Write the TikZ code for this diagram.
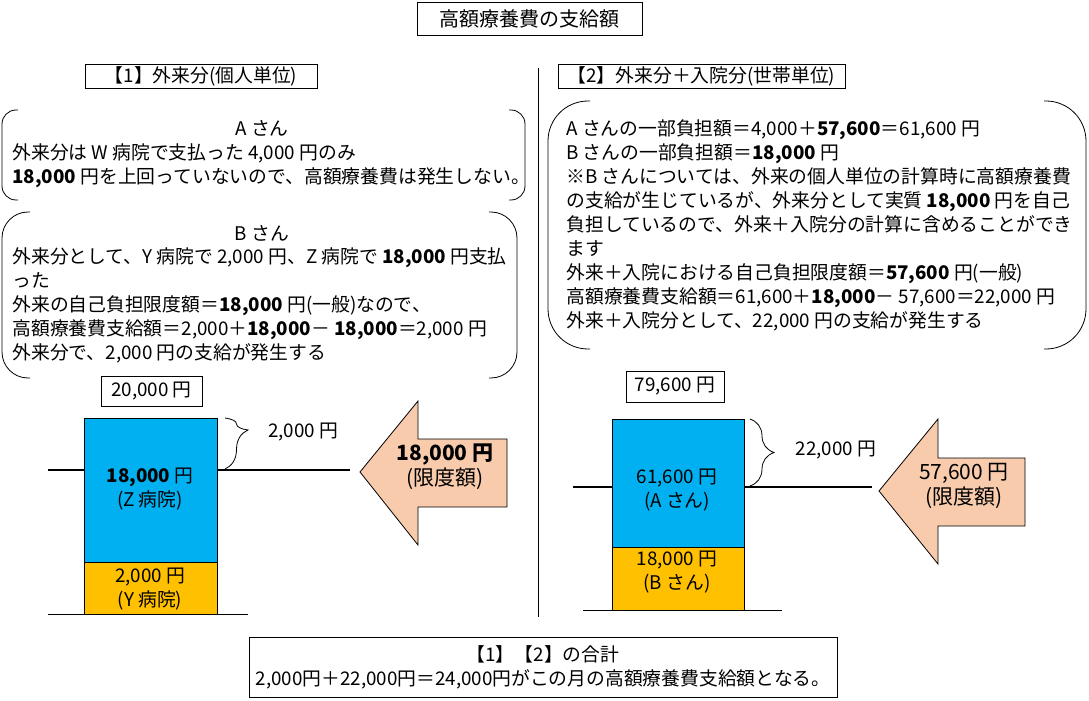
\documentclass[tikz,border=0pt]{standalone}
\usepackage{fontspec}
\setmainfont{Noto Sans CJK JP}
\usetikzlibrary{decorations.pathreplacing}
\definecolor{barblue}{HTML}{00B0F0}
\definecolor{barorange}{HTML}{FFC000}
\definecolor{arrowpeach}{HTML}{F8CBAD}
\tikzset{
  txt/.style={font=\fontsize{9.4}{12}\selectfont,inner sep=0pt},
  lines/.style={txt,align=left,anchor=north west},
  twoline/.style={txt,align=center},
  framed/.style={txt,draw,thin,align=center},
  bigtxt/.style={font=\fontsize{10.5}{12.5}\selectfont,inner sep=0pt,align=center},
  limit/.style={line width=1.2pt},
  curly/.style={decorate,decoration={brace,amplitude=#1},thin}
}
\begin{document}
\begin{tikzpicture}[x=.5pt,y=-.5pt]
  \useasboundingbox (0,0) rectangle (1089,701);
  \node[framed,font=\fontsize{10}{12}\selectfont,minimum width=112.5pt,minimum height=16.5pt] (title) at (529.5,18.5) {高額療養費の支給額};
  \node[framed,minimum width=116pt,minimum height=12pt] (head1) at (201,76) {【1】外来分(個人単位)};
  \node[framed,minimum width=143.5pt,minimum height=12pt] (head2) at (701.5,76) {【2】外来分＋入院分(世帯単位)};
  \draw[thin] (538,68) -- (538,617);
  \foreach \xa/\ya/\xb/\yb/\r in {2/110/525/200/14, 2/212/517/378/26, 548/101/1086/349/40} {
    \draw[thin,rounded corners=\r*0.5pt] (\xa+\r+2,\ya) -- (\xa,\ya) -- (\xa,\yb) -- (\xa+\r+2,\yb);
    \draw[thin,rounded corners=\r*0.5pt] (\xb-\r-2,\ya) -- (\xb,\ya) -- (\xb,\yb) -- (\xb-\r-2,\yb);}
  \node[txt] (asan) at (262,128) {A さん};
  \node[lines] (atext) at (12,143) {外来分は W 病院で支払った 4,000 円のみ\\\textbf{18,000} 円を上回っていないので、高額療養費は発生しない。};
  \node[txt] (bsan) at (262,233) {B さん};
  \node[lines] (btext) at (12,247) {外来分として、Y 病院で 2,000 円、Z 病院で \textbf{18,000} 円支払\\った\\外来の自己負担限度額＝\textbf{18,000} 円(一般)なので、\\高額療養費支給額＝2,000＋\textbf{18,000}－ \textbf{18,000}＝2,000 円\\外来分で、2,000 円の支給が発生する};
  \node[lines] (setai) at (566,119) {A さんの一部負担額＝4,000＋\textbf{57,600}＝61,600 円\\B さんの一部負担額＝\textbf{18,000} 円\\※B さんについては、外来の個人単位の計算時に高額療養費\\の支給が生じているが、外来分として実質 \textbf{18,000} 円を自己\\負担しているので、外来＋入院分の計算に含めることができ\\ます\\外来＋入院における自己負担限度額＝\textbf{57,600} 円(一般)\\高額療養費支給額＝61,600＋\textbf{18,000}－ 57,600＝22,000 円\\外来＋入院分として、22,000 円の支給が発生する};
  \node[framed,minimum width=50.5pt,minimum height=15pt] (ztotal) at (151.5,391.5) {20,000 円};
  \filldraw[fill=barblue,thin] (84,418) rectangle (217,562); \filldraw[fill=barorange,thin] (84,562) rectangle (217,614);
  \node[twoline] (zbar) at (150,489) {\textbf{18,000} 円\\(Z 病院)}; \node[twoline] (ybar) at (150,589) {2,000 円\\(Y 病院)};
  \draw[limit] (48,470) -- (84,470); \draw[limit] (217,470) -- (350,470); \draw[thin] (48,614) -- (248,614);
  \draw[curly={11.5pt},decoration={aspect=.235}] (225,418) -- (225,469); \node[txt] (zover) at (303,432) {2,000 円};
  \filldraw[fill=barblue,thin] (612,419) rectangle (744,547); \filldraw[fill=barorange,thin] (612,547) rectangle (744,610);
  \node[framed,minimum width=49pt,minimum height=15.5pt] (ftotal) at (675,386.5) {79,600 円};
  \node[twoline] (abar) at (677,490) {61,600 円\\(A さん)}; \node[twoline] (bbar) at (677,572) {18,000 円\\(B さん)};
  \draw[limit] (573,487) -- (612,487); \draw[limit] (744,487) -- (872,487); \draw[thin] (583,610) -- (782,610);
  \draw[curly={12pt},decoration={aspect=.5}] (750,419) -- (750,486); \node[txt] (fover) at (836,450) {22,000 円};
  \foreach \tx/\ty/\hx/\ht/\hb/\st/\sb/\ex in {360/472/418/401/545/439/507/507, 879/491/938/419/564/458/526/1025}
    \filldraw[fill=arrowpeach,thin] (\tx,\ty) -- (\hx,\ht) -- (\hx,\st) -- (\ex,\st) -- (\ex,\sb) -- (\hx,\sb) -- (\hx,\hb) -- cycle;
  \node[bigtxt] (zlimit) at (445,467) {\textbf{18,000 円}\\(限度額)}; \node[bigtxt] (flimit) at (964,486) {57,600 円\\(限度額)};
  \node[framed,minimum width=294pt,minimum height=30pt] (total) at (543,667) {【1】【2】の合計\\2,000円＋22,000円＝24,000円がこの月の高額療養費支給額となる。};
\end{tikzpicture}
\end{document}
